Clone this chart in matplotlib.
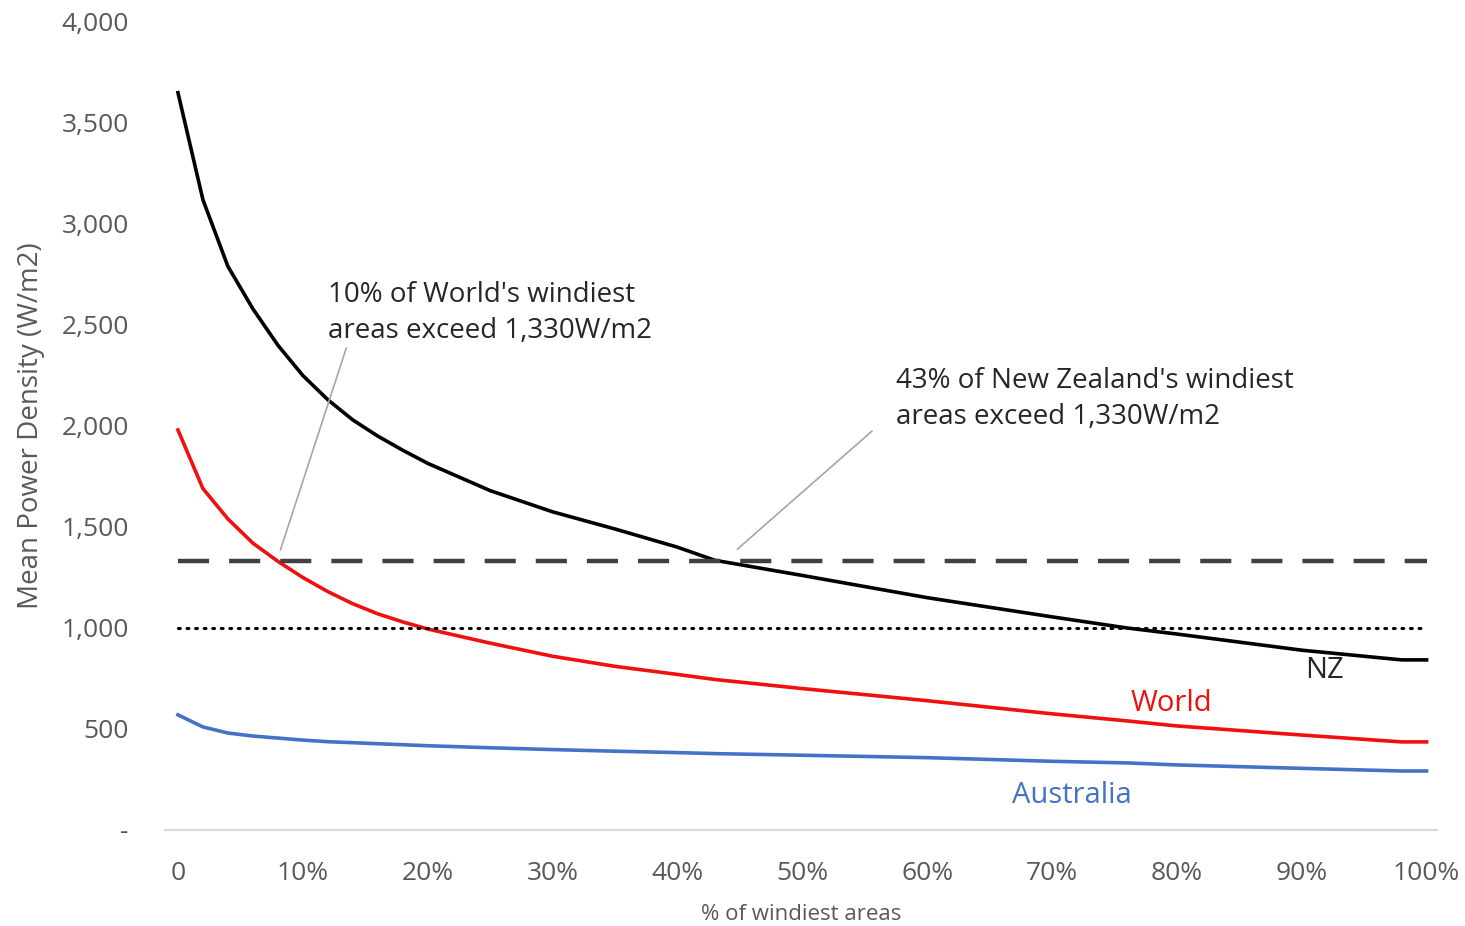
import matplotlib.pyplot as plt
from matplotlib.ticker import FuncFormatter

plt.rcParams['font.family'] = ['Open Sans', 'DejaVu Sans']

# % of windiest areas
pct = [0, 2, 4, 6, 8, 10, 12, 14, 16, 18, 20, 25, 30, 35, 40, 43, 50, 60, 70, 76, 80, 90, 98, 100]

nz = [3650, 3120, 2790, 2580, 2400, 2250, 2130, 2030, 1950, 1880, 1815, 1680, 1575,
      1490, 1400, 1335, 1260, 1150, 1055, 1000, 970, 890, 842, 842]
world = [1980, 1690, 1540, 1420, 1330, 1250, 1180, 1120, 1070, 1030, 995, 925, 860,
         810, 770, 745, 700, 640, 575, 540, 515, 470, 436, 436]
australia = [570, 510, 480, 465, 455, 445, 437, 432, 427, 422, 417, 407, 398,
             390, 383, 378, 370, 358, 340, 332, 322, 305, 292, 292]

threshold = 1330
reference = 1000

fig = plt.figure(figsize=(14.65, 9.26), dpi=100)
ax = fig.add_axes([0.1126, 0.1037, 0.868, 0.8726])

ax.plot(pct, nz, color='black', lw=2.6)
ax.plot(pct, world, color='#f01010', lw=2.6)
ax.plot(pct, australia, color='#4472c4', lw=2.6)

ax.plot([0, 100], [threshold, threshold], color='#404040', lw=3.2, dashes=(7, 4.5))
ax.plot([0, 100], [reference, reference], color='black', lw=2.2, dashes=(0.6, 2.2),
        dash_capstyle='round')

ax.set_xlim(-1.04, 100.8)
ax.set_ylim(0, 4000)
ax.set_xticks(range(0, 101, 10))
ax.set_yticks(range(0, 4001, 500))
ax.xaxis.set_major_formatter(FuncFormatter(lambda v, p: '0' if v == 0 else f'{v:.0f}%'))
ax.yaxis.set_major_formatter(FuncFormatter(lambda v, p: '-' if v == 0 else f'{v:,.0f}'))
ax.tick_params(axis='both', length=0, labelsize=19, colors='#595959')
ax.tick_params(axis='y', pad=26)
ax.tick_params(axis='x', pad=22)

for s in ['top', 'right', 'left']:
    ax.spines[s].set_visible(False)
ax.spines['bottom'].set_color('#d9d9d9')
ax.spines['bottom'].set_linewidth(1.5)

ax.set_ylabel('Mean Power Density (W/m2)', fontsize=20, color='#595959', labelpad=12)
ax.set_xlabel('% of windiest areas', fontsize=16, color='#595959', labelpad=13)

ax.annotate("10% of World's windiest\nareas exceed 1,330W/m2", xy=(8.2, 1385),
            xytext=(12, 2400), fontsize=20, color='#262626', linespacing=1.4,
            va='bottom', ha='left',
            arrowprops=dict(arrowstyle='-', color='#a6a6a6', lw=1.2, shrinkA=0, shrinkB=0,
                            relpos=(0.06, 0)))
ax.annotate("43% of New Zealand's windiest\nareas exceed 1,330W/m2", xy=(44.8, 1390),
            xytext=(57.5, 1975), fontsize=20, color='#262626', linespacing=1.4,
            va='bottom', ha='left',
            arrowprops=dict(arrowstyle='-', color='#a6a6a6', lw=1.2, shrinkA=0, shrinkB=0,
                            relpos=(-0.06, 0)))

ax.text(91.8, 790, 'NZ', fontsize=21, color='#262626', ha='center', va='center')
ax.text(79.6, 625, 'World', fontsize=21, color='#f01010', ha='center', va='center')
ax.text(71.6, 170, 'Australia', fontsize=21, color='#4472c4', ha='center', va='center')

fig.savefig('out.png', dpi=100)
